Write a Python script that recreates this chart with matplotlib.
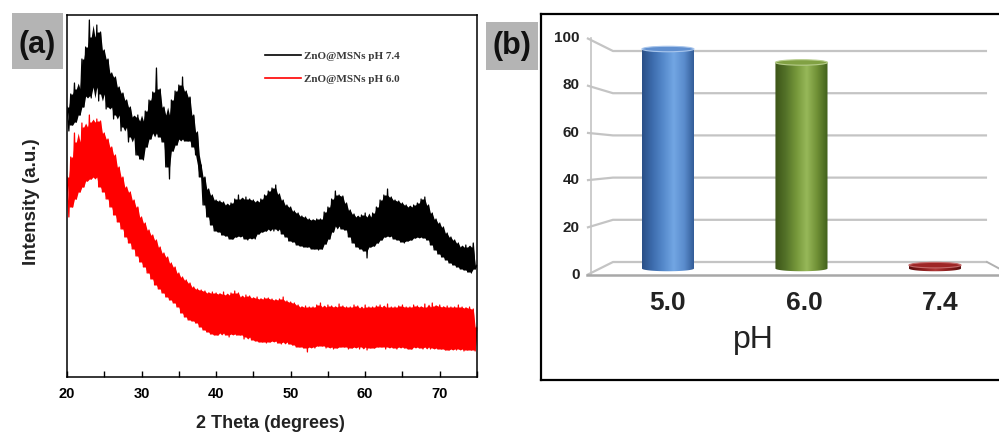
import numpy as np
import matplotlib
matplotlib.use('Agg')
import matplotlib.pyplot as plt
from numpy.lib.stride_tricks import sliding_window_view
from matplotlib.colors import LinearSegmentedColormap
from matplotlib.patches import Ellipse, PathPatch, Rectangle
from matplotlib.path import Path
from matplotlib.lines import Line2D

plt.rcParams['font.family'] = ['Liberation Sans', 'DejaVu Sans']

# XRD patterns, 2 theta 20-75 deg read every 0.25 deg (counts, arbitrary)
two_theta = np.arange(20, 75.01, 0.25)
xrd_ph74 = [
    270, 246, 283, 252,  294, 255, 288, 262,  318, 270, 330, 281,
    357, 279, 340, 290,  352, 276, 345, 283,  327, 268, 318, 270,
    304, 258, 300, 262,  290, 246, 284, 250,  277, 235, 270, 240,
    260, 222, 262, 218,  256, 217, 266, 230,  277, 238, 285, 244,
    309, 240, 288, 235,  270, 210, 262, 198,  277, 226, 286, 232,
    292, 238, 300, 236,  286, 236, 280, 230,  262, 222, 245, 200,
    212, 172, 200, 160,  188, 152, 182, 146,  177, 145, 176, 142,
    175, 141, 172, 138,  174, 138, 178, 140,  182, 141, 178, 138,
    180, 137, 178, 139,  177, 138, 175, 143,  178, 145, 182, 146,
    186, 148, 189, 146,  192, 148, 183, 143,  177, 140, 172, 136,
    170, 135, 166, 132,  164, 131, 161, 130,  160, 130, 158, 128,
    157, 128, 158, 127,  158, 128, 165, 133,  170, 138, 178, 145,
    186, 151, 182, 148,  181, 147, 174, 140,  167, 134, 163, 130,
    160, 128, 162, 126,  164, 119, 160, 130,  164, 131, 170, 134,
    177, 137, 182, 140,  188, 141, 180, 138,  177, 137, 176, 135,
    174, 134, 172, 136,  170, 137, 172, 139,  174, 140, 178, 139,
    180, 137, 172, 132,  164, 127, 158, 123,  154, 120, 150, 117,
    144, 114, 140, 112,  137, 110, 134, 108,  130, 107, 132, 105,
    130, 104, 134, 108,  112]
xrd_ph60 = [
    200, 160, 220, 170,  244, 178, 235, 185,  254, 190, 250, 196,
    262, 198, 255, 200,  258, 190, 256, 185,  244, 178, 238, 170,
    230, 162, 222, 155,  210, 148, 200, 140,  190, 134, 185, 128,
    177, 121, 170, 115,  160, 110, 154, 104,  147, 98, 142, 92,
    137, 88, 130, 84,    124, 80, 120, 77,    114, 74, 110, 70,
    104, 64, 100, 60,    97, 57, 94, 56,      90, 54, 88, 50,
    87, 47, 86, 45,      84, 43, 85, 42,      84, 42, 83, 44,
    85, 42, 82, 40,      84, 43, 86, 42,      84, 42, 80, 38,
    82, 40, 81, 37,      79, 36, 80, 35,      78, 35, 79, 34,
    79, 35, 78, 36,      77, 34, 78, 33,      80, 35, 76, 33,
    75, 32, 74, 30,      72, 30, 70, 29,      71, 25, 70, 30,
    70, 29, 72, 31,      74, 31, 70, 29,      72, 30, 71, 28,
    70, 29, 73, 30,      71, 30, 70, 28,      70, 29, 72, 30,
    71, 28, 69, 30,      72, 27, 70, 29,      70, 29, 71, 30,
    72, 30, 70, 28,      73, 30, 70, 29,      70, 28, 71, 30,
    72, 29, 70, 28,      70, 28, 72, 30,      71, 29, 70, 28,
    73, 30, 70, 28,      74, 29, 71, 28,      72, 28, 70, 27,
    71, 27, 70, 28,      70, 27, 72, 28,      70, 26, 69, 27,
    70, 27, 68, 26,      50]
xrd_labels = ['ZnO@MSNs pH 7.4', 'ZnO@MSNs pH 6.0']

# release (%) at each pH
ph_labels = ['5.0', '6.0', '7.4']
release = [98, 92, 1.5]
release_ticks = [0, 20, 40, 60, 80, 100]

W, H = 999, 433
fig = plt.figure(figsize=(W / 100, H / 100), dpi=100)
narrow = ['Liberation Sans Narrow', 'Liberation Sans']


def box(x0, y0, x1, y1):
    # pixel box (top-left origin) -> figure fraction rect
    return [x0 / W, 1 - y1 / H, (x1 - x0) / W, (y1 - y0) / H]


def tag(text, x0, y0, x1, y1, ty):
    fig.add_artist(Rectangle((x0 / W, 1 - y1 / H), (x1 - x0) / W, (y1 - y0) / H,
                             transform=fig.transFigure, color='#b4b4b4', lw=0))
    fig.text((x0 + x1) / 2 / W, 1 - ty / H, text, ha='center', va='center',
             fontsize=22, fontweight='bold', color='#111111')


def noisy_trace(ax, x, y, color):
    # solid core of the noise band (2nd highest / 2nd lowest in a 5-point
    # window) with the raw trace drawn over it for the spikes
    y = np.asarray(y, dtype=float)
    win = np.sort(sliding_window_view(np.pad(y, 2, mode='edge'), 5), axis=1)
    ax.fill_between(x, win[:, 1], win[:, 3], color=color, lw=0)
    ax.plot(x, y, color=color, lw=0.9)


# ---- (a) XRD ----
axa = fig.add_axes(box(67, 15, 477, 377))
noisy_trace(axa, two_theta, xrd_ph74, 'black')
noisy_trace(axa, two_theta, xrd_ph60, '#ff0000')
axa.set_xlim(20, 75)
axa.set_ylim(0, 362)
axa.set_yticks([])
axa.set_xticks([20, 30, 40, 50, 60, 70])
axa.set_xticks([25, 35, 45, 55, 65, 75], minor=True)
axa.tick_params(axis='x', which='both', direction='in', length=4, width=1, pad=7,
                labelsize=10.5)
for t in axa.get_xticklabels():
    t.set_fontweight('bold')
for s in axa.spines.values():
    s.set_linewidth(1.1)
handles = [Line2D([], [], color='black', lw=1.2), Line2D([], [], color='#ff0000', lw=1.2)]
axa.legend(handles, xrd_labels, loc='upper left', bbox_to_anchor=(0.483, 0.9),
           frameon=False, borderpad=0, borderaxespad=0, handlelength=3.2,
           handletextpad=0.3, labelspacing=1.15,
           prop={'family': 'Liberation Serif', 'weight': 'bold', 'size': 8},
           labelcolor='#3a3a3a')
fig.text(270 / W, 1 - 423 / H, '2 Theta (degrees)', ha='center', va='center',
         fontsize=13, fontweight='bold', color='#222222')
fig.text(32 / W, 1 - 202 / H, 'Intensity (a.u.)', ha='center', va='center',
         rotation=90, fontsize=13.5, fontweight='bold', color='#222222')
tag('(a)', 12, 13, 63, 69, 45)

# ---- (b) release bars, pseudo 3D ----
axb = fig.add_axes(box(541, 14, 1006, 380))
axb.set_xticks([])
axb.set_yticks([])
for s in axb.spines.values():
    s.set_linewidth(1.6)
    s.set_color('black')


def front(v):
    return -6.16 + 1.123 * v


def mid(v):
    return 0.5 * (front(v) + v)


x_tick, x_front, x_back_l, x_back_r, x_front_r = -0.607, -0.577, -0.412, 2.39, 2.48
grid_c = '#c4c4c4'
for v in release_ticks:
    axb.plot([x_tick, x_back_l, x_back_r], [front(v), v, v], color=grid_c, lw=1.6,
             solid_capstyle='butt', zorder=1)
    axb.text(-0.66, front(v), str(v), ha='right', va='center', fontsize=11,
             fontweight='bold', family=narrow, color='#222222')
axb.plot([x_front, x_front], [front(0), front(100)], color=grid_c, lw=1.2, zorder=1)
axb.plot([x_tick, 2.6], [front(0), front(0)], color='#a8a8a8', lw=1.8, zorder=1)
axb.plot([x_back_r, x_front_r + 0.1], [0, front(0) - 0.3], color='#b0b0b0', lw=1.4, zorder=1)

bar_cmaps = [
    ['#2a4f86', '#3d6cad', '#5589cb', '#72a6e3', '#5a8ccd', '#2f5892'],
    ['#3c5417', '#537128', '#75973a', '#97b859', '#6f8f35', '#40601b'],
    ['#5a0e0e', '#8a1c1c', '#b03838', '#8a1c1c', '#5a0e0e'],
]
bar_tops = ['#6190d0', '#81a143', '#9e2626']
bar_rims = ['#a9c6ec', '#b7cd8c', '#c46a6a']
bw, eh = 0.39, 2.6
t = np.linspace(np.pi, 2 * np.pi, 40)
for i, v in enumerate(release):
    x0, x1 = i - bw / 2, i + bw / 2
    base, top = mid(0), mid(v)
    arc = np.column_stack([i + bw / 2 * np.cos(t), base + eh / 2 * np.sin(t)])
    verts = np.vstack([[[x0, top]], arc, [[x1, top]], [[x0, top]]])
    clip = PathPatch(Path(verts), facecolor='none', edgecolor='none')
    axb.add_patch(clip)
    cmap = LinearSegmentedColormap.from_list('cyl%d' % i, bar_cmaps[i])
    im = axb.imshow(np.linspace(0, 1, 256).reshape(1, -1), cmap=cmap, aspect='auto',
                    extent=(x0, x1, base - eh, top), zorder=3, interpolation='bilinear')
    im.set_clip_path(clip)
    axb.add_patch(Ellipse((i, top), bw, eh, facecolor=bar_tops[i],
                          edgecolor=bar_rims[i], lw=0.8, zorder=4))
    axb.text(i + 0.02 * i, -22.7, ph_labels[i], ha='center', va='baseline',
             fontsize=19, fontweight='bold', family=narrow, color='#222222')
axb.set_xlim(-0.951, 2.532)
axb.set_ylim(-55.92, 117.54)
axb.text(0.637, -40.8, 'pH', ha='center', va='baseline', fontsize=23, color='#222222')
tag('(b)', 486, 22, 538, 70, 46)

fig.savefig('out.png', dpi=100)
